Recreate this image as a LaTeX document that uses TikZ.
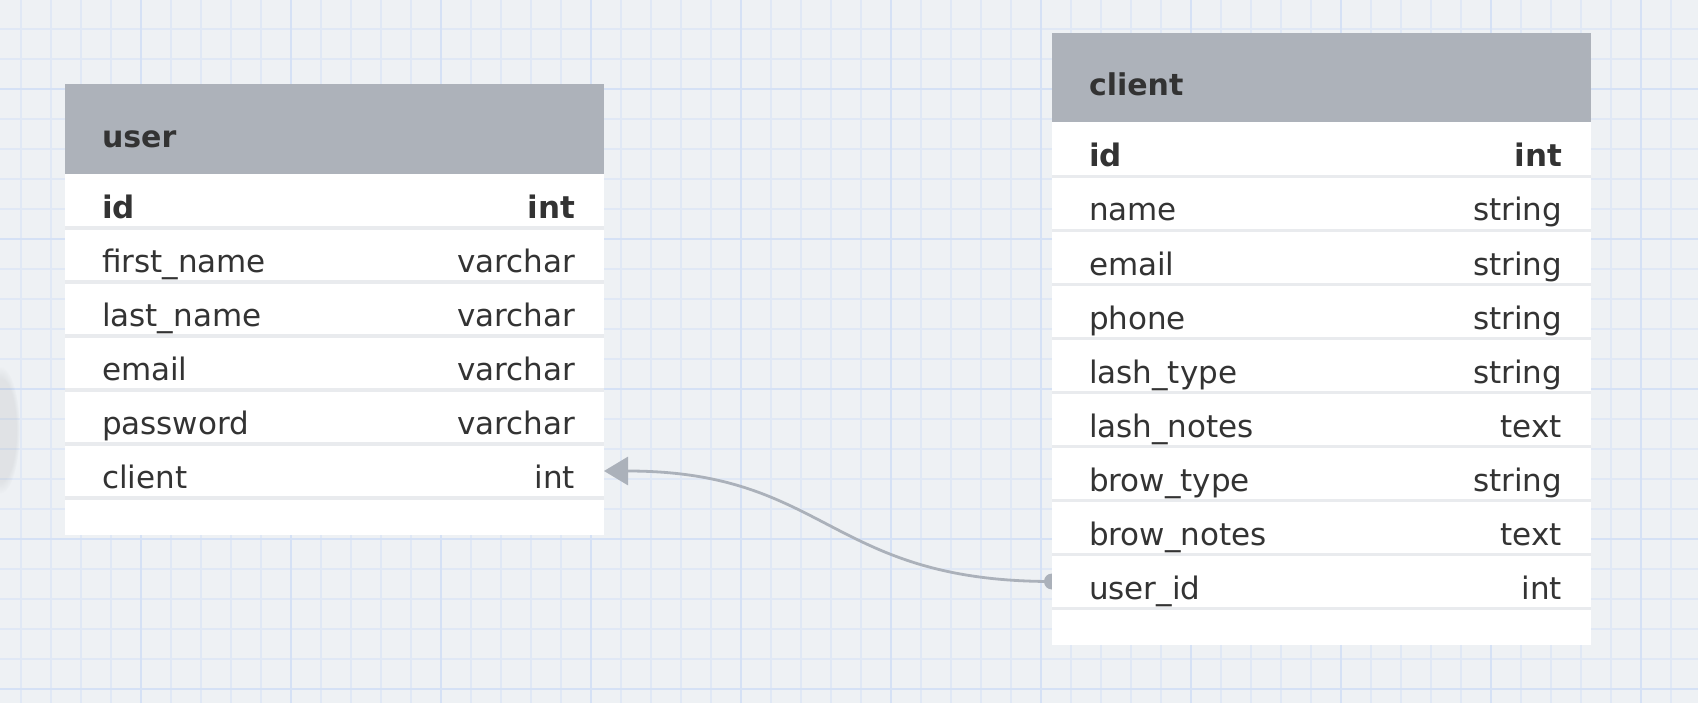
\documentclass[tikz,border=0pt]{standalone}
\usepackage{fontspec}
\setmainfont{DejaVu Sans}
\usetikzlibrary{positioning, arrows.meta, backgrounds, fadings}

\definecolor{canvas}{HTML}{EEF1F4}
\definecolor{gridminor}{HTML}{E0E8F5}
\definecolor{gridmajor}{HTML}{D5E1F5}
\definecolor{headgray}{HTML}{ADB2BA}
\definecolor{inkgray}{HTML}{333333}
\definecolor{rowline}{HTML}{E9EBEE}
\definecolor{linkgray}{HTML}{ABB1BA}

% one table line: name left, type right
\newcommand{\fld}[2]{\hbox to 269.5pt{\hskip18.5pt #1\hfill #2\hskip14.5pt}}
\newcommand{\ttl}[1]{\hbox to 269.5pt{\hskip18.5pt\bfseries #1\hfill}}

\begin{document}
\begin{tikzpicture}[x=0.5pt, y=0.5pt,
    tblhead/.style={fill=headgray, inner sep=0pt, outer sep=0pt, anchor=north west,
      text height=31.5pt, text depth=13.25pt, text=inkgray, font=\fontsize{15pt}{18pt}\selectfont},
    tblrow/.style={fill=white, inner sep=0pt, outer sep=0pt,
      text height=22.25pt, text depth=4.75pt, text=inkgray, font=\fontsize{15.5pt}{18pt}\selectfont},
    tblfoot/.style={fill=white, inner sep=0pt, outer sep=0pt, minimum width=269.5pt, minimum height=18.25pt},
    rowsep/.style={draw=rowline, line width=1.75pt},
    gridline/.style={draw=gridminor, line width=1pt},
    gridbold/.style={draw=gridmajor, line width=1pt},
    link/.style={draw=linkgray, line width=1.4pt}]
  \useasboundingbox (0,0) rectangle (1698,703);

  % User table
  \node[tblhead] (uhead) at (65,618.5) {\ttl{user}};
  \node[tblrow, below=0pt of uhead] (u1) {\fld{\bfseries id}{\bfseries int}};
  \node[tblrow, below=0pt of u1] (u2) {\fld{first\_name}{varchar}};
  \node[tblrow, below=0pt of u2] (u3) {\fld{last\_name}{varchar}};
  \node[tblrow, below=0pt of u3] (u4) {\fld{email}{varchar}};
  \node[tblrow, below=0pt of u4] (u5) {\fld{password}{varchar}};
  \node[tblrow, below=0pt of u5] (u6) {\fld{client}{int}};
  \node[tblfoot, below=0pt of u6] (ufoot) {};

  % Client table
  \node[tblhead] (chead) at (1052,670) {\ttl{client}};
  \node[tblrow, below=0pt of chead] (c1) {\fld{\bfseries id}{\bfseries int}};
  \node[tblrow, below=0pt of c1] (c2) {\fld{name}{string}};
  \node[tblrow, below=0pt of c2] (c3) {\fld{email}{string}};
  \node[tblrow, below=0pt of c3] (c4) {\fld{phone}{string}};
  \node[tblrow, below=0pt of c4] (c5) {\fld{lash\_type}{string}};
  \node[tblrow, below=0pt of c5] (c6) {\fld{lash\_notes}{text}};
  \node[tblrow, below=0pt of c6] (c7) {\fld{brow\_type}{string}};
  \node[tblrow, below=0pt of c7] (c8) {\fld{brow\_notes}{text}};
  \node[tblrow, below=0pt of c8] (c9) {\fld{user\_id}{int}};
  \node[tblfoot, below=0pt of c9] (cfoot) {};

  % Row separators
  \foreach \r in {u1,u2,u3,u4,u5,u6,c1,c2,c3,c4,c5,c6,c7,c8,c9}
    \draw[rowsep] (\r.south west) -- (\r.south east);

  \begin{scope}[on background layer]
    % Canvas and grid
    \fill[canvas] (0,0) rectangle (1698,703);
    \foreach \gx in {20.7,50.7,...,1698} \draw[gridline] (\gx,0) -- (\gx,703);
    \foreach \gy in {13.7,43.7,...,703} \draw[gridline] (0,\gy) -- (1698,\gy);
    \foreach \gx in {140.7,290.7,...,1698} \draw[gridbold] (\gx,0) -- (\gx,703);
    \foreach \gy in {13.7,163.7,...,703} \draw[gridbold] (0,\gy) -- (1698,\gy);
    % faint shadow at the left edge
    \fill[black, opacity=0.06, path fading=circle with fuzzy edge 20 percent]
      (0,273) ellipse [x radius=10pt, y radius=32pt];

    % Relation
    \draw[link, -{Triangle[length=12pt, width=14pt]}] (c9.west) .. controls +(-224,0) and +(224,0) .. (u6.east);
    \fill[linkgray] (c9.west) circle (4pt);
  \end{scope}
\end{tikzpicture}
\end{document}
